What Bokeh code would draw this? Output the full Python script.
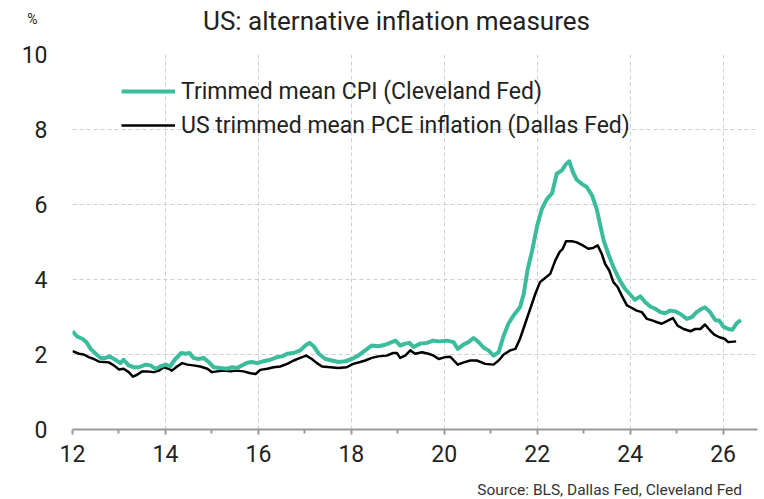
from bokeh.plotting import figure
from bokeh.models import Range1d, Legend, LegendItem, FixedTicker, Label
from bokeh.layouts import column
from bokeh.embed import file_html
from bokeh.resources import INLINE

# ---- data (decimal years, % y/y) ----
cpi_x = [12.0, 12.1, 12.21, 12.3, 12.39, 12.5, 12.6, 12.71, 12.8, 12.92, 13.03, 13.1, 13.21, 13.32, 13.43,
         13.57, 13.68, 13.78, 13.89, 14.0, 14.1, 14.2, 14.34, 14.43, 14.52, 14.6, 14.71, 14.82, 14.93,
         15.04, 15.18, 15.33, 15.43, 15.54, 15.65, 15.76, 15.86, 15.97, 16.11, 16.26, 16.4, 16.51, 16.62,
         16.76, 16.9, 17.01, 17.1, 17.19, 17.3, 17.44, 17.58, 17.72, 17.87, 18.01, 18.15, 18.3, 18.44,
         18.58, 18.73, 18.83, 18.95, 19.05, 19.16, 19.25, 19.34, 19.48, 19.63, 19.76, 19.88, 20.06, 20.2,
         20.29, 20.42, 20.52, 20.63, 20.74, 20.85, 20.95, 21.06, 21.17, 21.28, 21.38, 21.49, 21.63, 21.71,
         21.79, 21.89, 22.0, 22.1, 22.21, 22.32, 22.42, 22.53, 22.62, 22.69, 22.77, 22.85, 22.96, 23.07,
         23.18, 23.28, 23.35, 23.43, 23.53, 23.64, 23.78, 23.89, 24.0, 24.1, 24.22, 24.32, 24.43, 24.54,
         24.65, 24.75, 24.86, 24.97, 25.08, 25.22, 25.33, 25.43, 25.54, 25.61, 25.72, 25.83, 25.92, 26.0,
         26.11, 26.2, 26.29, 26.38]
cpi_y = [2.62, 2.48, 2.42, 2.33, 2.15, 2.02, 1.91, 1.91, 1.95, 1.86, 1.77, 1.86, 1.71, 1.66, 1.66,
         1.73, 1.71, 1.62, 1.68, 1.73, 1.68, 1.86, 2.04, 2.02, 2.04, 1.91, 1.88, 1.91, 1.80,
         1.66, 1.64, 1.62, 1.66, 1.64, 1.71, 1.78, 1.80, 1.77, 1.82, 1.86, 1.93, 1.95, 2.02,
         2.04, 2.11, 2.24, 2.31, 2.22, 2.02, 1.88, 1.84, 1.80, 1.82, 1.88, 1.97, 2.11, 2.24,
         2.22, 2.26, 2.31, 2.37, 2.24, 2.29, 2.31, 2.20, 2.29, 2.31, 2.37, 2.35, 2.37, 2.33,
         2.15, 2.27, 2.33, 2.44, 2.33, 2.18, 2.11, 1.97, 2.06, 2.51, 2.82, 3.04, 3.26, 3.62,
         4.24, 4.77, 5.44, 5.88, 6.15, 6.30, 6.82, 6.91, 7.08, 7.15, 6.86, 6.66, 6.55, 6.46,
         6.24, 5.88, 5.48, 5.04, 4.68, 4.33, 3.97, 3.75, 3.60, 3.46, 3.55, 3.40, 3.28, 3.22,
         3.13, 3.10, 3.17, 3.15, 3.08, 2.95, 3.00, 3.13, 3.22, 3.26, 3.13, 2.92, 2.90, 2.75,
         2.68, 2.66, 2.83, 2.92]

pce_x = [12.0, 12.14, 12.24, 12.35, 12.46, 12.57, 12.67, 12.78, 12.89, 13.0, 13.1, 13.21, 13.3, 13.39,
         13.5, 13.6, 13.75, 13.86, 13.96, 14.07, 14.14, 14.25, 14.36, 14.47, 14.6, 14.75, 14.9, 15.0,
         15.11, 15.25, 15.4, 15.54, 15.68, 15.83, 15.94, 16.04, 16.19, 16.33, 16.47, 16.62, 16.76, 16.9,
         17.03, 17.15, 17.26, 17.37, 17.55, 17.72, 17.9, 18.04, 18.19, 18.3, 18.44, 18.58, 18.76, 18.9,
         18.98, 19.05, 19.16, 19.27, 19.37, 19.52, 19.66, 19.77, 19.88, 20.02, 20.13, 20.29, 20.42, 20.56,
         20.7, 20.88, 21.06, 21.17, 21.28, 21.42, 21.53, 21.63, 21.74, 21.85, 21.96, 22.06, 22.17, 22.28,
         22.39, 22.48, 22.55, 22.62, 22.75, 22.85, 22.98, 23.1, 23.2, 23.3, 23.39, 23.46, 23.55, 23.64,
         23.73, 23.82, 23.93, 24.04, 24.14, 24.25, 24.36, 24.47, 24.58, 24.68, 24.79, 24.92, 25.02, 25.15,
         25.3, 25.4, 25.51, 25.61, 25.72, 25.81, 25.92, 26.03, 26.11, 26.28]
pce_y = [2.09, 2.02, 2.00, 1.93, 1.88, 1.81, 1.80, 1.79, 1.71, 1.60, 1.62, 1.53, 1.41, 1.46,
         1.55, 1.55, 1.53, 1.57, 1.66, 1.62, 1.57, 1.68, 1.77, 1.73, 1.71, 1.68, 1.62, 1.53,
         1.55, 1.57, 1.55, 1.57, 1.55, 1.50, 1.48, 1.59, 1.62, 1.66, 1.68, 1.75, 1.84, 1.91,
         1.97, 1.88, 1.77, 1.68, 1.66, 1.64, 1.66, 1.75, 1.80, 1.84, 1.91, 1.95, 1.97, 2.04,
         2.04, 1.91, 1.97, 2.11, 2.02, 2.06, 2.02, 1.97, 1.88, 1.93, 1.94, 1.73, 1.79, 1.84,
         1.84, 1.75, 1.73, 1.84, 2.00, 2.11, 2.15, 2.42, 2.82, 3.22, 3.62, 3.93, 4.04, 4.15,
         4.51, 4.73, 4.82, 5.02, 5.02, 4.99, 4.91, 4.82, 4.84, 4.91, 4.68, 4.42, 4.24, 3.93,
         3.80, 3.57, 3.31, 3.24, 3.17, 3.13, 2.95, 2.91, 2.86, 2.82, 2.89, 2.97, 2.77, 2.68,
         2.62, 2.68, 2.68, 2.80, 2.64, 2.53, 2.46, 2.42, 2.33, 2.35]

x_ticks = [12, 14, 16, 18, 20, 22, 24, 26]
x_minor = [13, 15, 17, 19, 21, 23, 25]
y_ticks = [0, 2, 4, 6, 8, 10]

title_text = "US: alternative inflation measures"
cpi_name = "Trimmed mean CPI (Cleveland Fed)"
pce_name = "US trimmed mean PCE inflation (Dallas Fed)"
source_text = "Source: BLS, Dallas Fed, Cleveland Fed"
unit_text = "%"

FONT = "Roboto"
TEAL = "#3bbd9d"
TXT = "#222222"
W = 758
BL, BR = 72, 1          # left / right borders shared by all three strips
FRAME_W = W - BL - BR   # 685


def text_strip(height, with_unit_axis=False):
    """A blank strip figure (frames aligned with the chart) used to carry header / footer text."""
    f = figure(width=W, height=height, output_backend="svg", toolbar_location=None,
               x_range=Range1d(0, FRAME_W), y_range=Range1d(0, height),
               x_axis_location=None, y_axis_location="left" if with_unit_axis else None,
               min_border_left=BL, min_border_right=BR, min_border_top=0, min_border_bottom=0)
    f.outline_line_color = None
    f.grid.visible = False
    return f


# ---- header: title, plus the "%" unit drawn as the only label of a left axis ----
head = text_strip(42, with_unit_axis=True)
ua = head.yaxis[0]
ua.ticker = FixedTicker(ticks=[24])
ua.major_label_overrides = {24: unit_text}
ua.axis_line_color = None
ua.major_tick_line_color = None
ua.minor_tick_line_color = None
ua.major_label_standoff = 29
ua.major_label_text_font = FONT
ua.major_label_text_font_size = "14px"
ua.major_label_text_color = TXT
head.add_layout(Label(x=324, y=21.5, text=title_text, text_align="center", text_baseline="alphabetic",
                      text_font=FONT, text_font_size="26px", text_color=TXT))

# ---- main chart ----
p = figure(width=W, height=431, output_backend="svg", toolbar_location=None,
           x_range=Range1d(12, 26.74), y_range=Range1d(0, 10),
           min_border_left=BL, min_border_right=BR, min_border_top=12, min_border_bottom=44)
p.outline_line_color = None
p.background_fill_color = "white"

xa = p.xaxis[0]
xa.ticker = FixedTicker(ticks=x_ticks, minor_ticks=x_minor)
xa.axis_line_color = "#9a9a9a"
xa.axis_line_width = 2
xa.major_tick_line_color = "#9a9a9a"
xa.major_tick_line_width = 2
xa.major_tick_out = 5
xa.major_tick_in = 0
xa.minor_tick_line_color = "#9a9a9a"
xa.minor_tick_line_width = 2
xa.minor_tick_out = 4
xa.minor_tick_in = 0
xa.major_label_text_font = FONT
xa.major_label_text_font_size = "23px"
xa.major_label_text_color = TXT
xa.major_label_standoff = 10

ya = p.yaxis[0]
ya.ticker = FixedTicker(ticks=y_ticks)
ya.axis_line_color = None
ya.major_tick_line_color = None
ya.minor_tick_line_color = None
ya.major_label_text_font = FONT
ya.major_label_text_font_size = "23px"
ya.major_label_text_color = TXT
ya.major_label_standoff = 19

for g in (p.xgrid[0], p.ygrid[0]):
    g.grid_line_color = "#cfcfcf"
    g.grid_line_dash = "4 3"
    g.grid_line_width = 1
p.xgrid[0].ticker = FixedTicker(ticks=x_ticks)
p.ygrid[0].ticker = FixedTicker(ticks=y_ticks)

r_pce = p.line(pce_x, pce_y, line_color="black", line_width=2.5, line_join="round")
r_cpi = p.line(cpi_x, cpi_y, line_color=TEAL, line_width=4, line_join="round")

legend = Legend(items=[LegendItem(label=cpi_name, renderers=[r_cpi]),
                       LegendItem(label=pce_name, renderers=[r_pce])],
                location=(49, 289), orientation="vertical",
                glyph_width=54, glyph_height=30, label_height=30, spacing=4,
                padding=0, margin=0, label_standoff=6,
                label_text_font=FONT, label_text_font_size="23px", label_text_color=TXT,
                border_line_color=None, background_fill_alpha=0)
p.add_layout(legend, "center")

# ---- footer: source ----
foot = text_strip(26)
foot.add_layout(Label(x=669.5, y=9.5, text=source_text, text_align="right", text_baseline="alphabetic",
                      text_font=FONT, text_font_size="15.5px", text_color="#333333"))

layout = column(head, p, foot, spacing=0)
open("out.html", "w").write(file_html(layout, INLINE))
